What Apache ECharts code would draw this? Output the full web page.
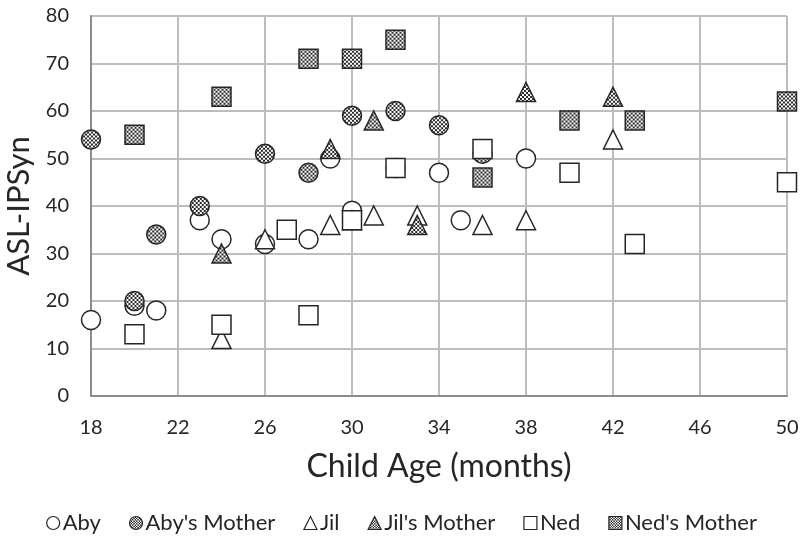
<!DOCTYPE html>
<html><head><meta charset="utf-8">
<script src="https://cdn.jsdelivr.net/npm/echarts@6/dist/echarts.min.js"></script>
<style>html,body{margin:0;padding:0;background:#fff}#c{width:803px;height:536px}</style>
</head><body><div id="c"></div>
<script>
// Axis definitions
const X_MIN = 18, X_MAX = 50, X_STEP = 4;
const Y_MIN = 0, Y_MAX = 80, Y_STEP = 10;
const X_TITLE = "Child Age (months)";
const Y_TITLE = "ASL-IPSyn";
const seriesNames = ["Aby", "Aby's Mother", "Jil", "Jil's Mother", "Ned", "Ned's Mother"];

// Data (child age in months, ASL-IPSyn score)
const abyAge = [18, 20, 21, 23, 24, 26, 28, 29, 30, 32, 34, 35, 38];
const abyScore = [16, 19, 18, 37, 33, 32, 33, 50, 39, 48, 47, 37, 50];
const abyMotherAge = [18, 20, 21, 23, 26, 28, 30, 32, 34, 36];
const abyMotherScore = [54, 20, 34, 40, 51, 47, 59, 60, 57, 51];
const jilAge = [24, 26, 29, 30, 31, 33, 36, 38, 42];
const jilScore = [12, 33, 36, 37, 38, 38, 36, 37, 54];
const jilMotherAge = [24, 29, 31, 33, 38, 42];
const jilMotherScore = [30, 52, 58, 36, 64, 63];
const nedAge = [20, 24, 27, 28, 30, 32, 36, 40, 43, 50];
const nedScore = [13, 15, 35, 17, 37, 48, 52, 47, 32, 45];
const nedMotherAge = [20, 24, 28, 30, 32, 36, 40, 43, 50];
const nedMotherScore = [55, 63, 71, 71, 75, 46, 58, 58, 62];

const ages = [abyAge, abyMotherAge, jilAge, jilMotherAge, nedAge, nedMotherAge];
const scores = [abyScore, abyMotherScore, jilScore, jilMotherScore, nedScore, nedMotherScore];
const symbols = ['circle', 'circle', 'triangle', 'triangle', 'rect', 'rect'];
const patterned = [false, true, false, true, false, true];

// checker pattern
const pc = document.createElement('canvas');
pc.width = 4; pc.height = 4;
const pctx = pc.getContext('2d');
pctx.fillStyle = '#ffffff'; pctx.fillRect(0, 0, 4, 4);
pctx.fillStyle = '#2b2b2b';
pctx.fillRect(0, 0, 2, 2); pctx.fillRect(2, 2, 2, 2);
// symbols are drawn in a 2x2 unit box scaled by size/2, so undo that scale in the pattern
function patternFor(size) {
  return { image: pc, repeat: 'repeat', scaleX: 2 / size, scaleY: 2 / size };
}

const FONT = 'Lato';
const TXT = '#262626';
const MARK = 19, ICON = 13;

const series = seriesNames.map((name, i) => ({
  name: name,
  type: 'scatter',
  symbol: symbols[i],
  symbolSize: MARK,
  data: ages[i].map((a, j) => [a - X_MIN, scores[i][j]]),
  itemStyle: {
    color: patterned[i] ? patternFor(MARK) : '#ffffff',
    borderColor: '#262626',
    borderWidth: 1.5,
    opacity: 1
  },
  emphasis: { disabled: true }
}));

const legendData = seriesNames.map((name, i) => ({
  name: name,
  icon: symbols[i],
  itemStyle: {
    color: patterned[i] ? patternFor(ICON) : '#ffffff',
    borderColor: '#262626',
    borderWidth: 1.2
  }
}));

const chart = echarts.init(document.getElementById('c'), null, { renderer: 'canvas' });
chart.setOption({
  animation: false,
  backgroundColor: '#ffffff',
  grid: { left: 91, right: 16, top: 16, bottom: 140, containLabel: false, outerBoundsMode: 'none' },
  xAxis: {
    type: 'value',
    min: 0, max: X_MAX - X_MIN, interval: X_STEP,
    name: X_TITLE, nameLocation: 'middle', nameGap: 55,
    nameTextStyle: { fontFamily: FONT, fontSize: 32, color: TXT },
    axisLine: { show: true, lineStyle: { color: '#8c8c8c', width: 2 } },
    axisTick: { show: false },
    axisLabel: { fontFamily: FONT, fontSize: 20, color: TXT, margin: 22, formatter: v => String(v + X_MIN) },
    splitLine: { show: true, lineStyle: { color: '#bdbdbd', width: 2 } }
  },
  yAxis: {
    type: 'value',
    min: Y_MIN, max: Y_MAX, interval: Y_STEP,
    name: Y_TITLE, nameLocation: 'middle', nameGap: 51,
    nameTextStyle: { fontFamily: FONT, fontSize: 31, color: TXT },
    axisLine: { show: true, lineStyle: { color: '#8c8c8c', width: 2 } },
    axisTick: { show: false },
    axisLabel: { fontFamily: FONT, fontSize: 20, color: TXT, margin: 22 },
    splitLine: { show: true, lineStyle: { color: '#bdbdbd', width: 2 } }
  },
  legend: {
    top: 507, left: 'center',
    itemWidth: ICON, itemHeight: ICON, itemGap: 28,
    textStyle: { fontFamily: FONT, fontSize: 22, color: TXT, padding: [0, 0, 0, -2] },
    data: legendData
  },
  series: series
});
</script></body></html>
